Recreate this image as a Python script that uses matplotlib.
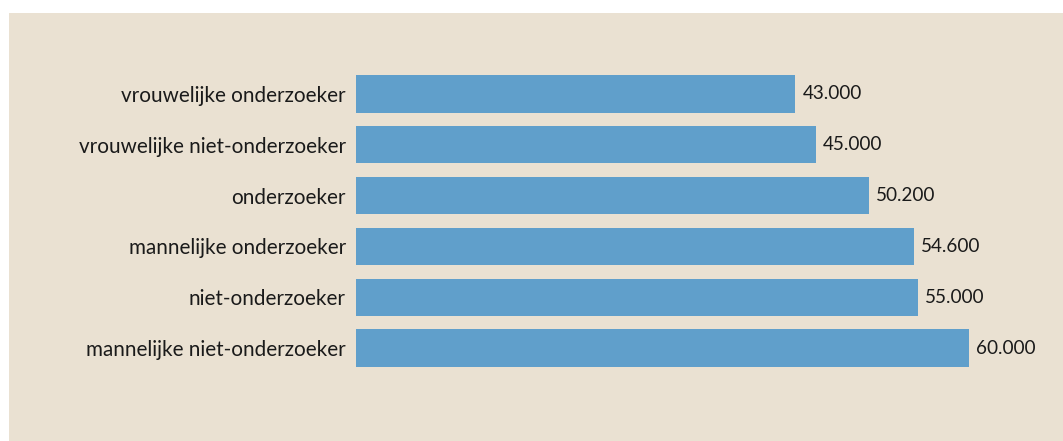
import matplotlib
matplotlib.use("Agg")
import matplotlib.pyplot as plt
from matplotlib.patches import Rectangle

categories = ["vrouwelijke onderzoeker", "vrouwelijke niet-onderzoeker", "onderzoeker",
              "mannelijke onderzoeker", "niet-onderzoeker", "mannelijke niet-onderzoeker"]
values = [43000, 45000, 50200, 54600, 55000, 60000]

W, H = 1063, 441
FONT = "Lato"
fig = plt.figure(figsize=(W / 100, H / 100), dpi=100)
fig.patch.set_facecolor("white")
bg = "#EAE1D2"
fig.patches.append(Rectangle((9 / W, 0), 1 - 9 / W, (H - 13) / H, transform=fig.transFigure,
                             facecolor=bg, edgecolor="none", zorder=-10))

left_px, right_px = 356, 1051
top_px, bot_px = 63.5, 378.5
ax = fig.add_axes([left_px / W, 1 - bot_px / H, (right_px - left_px) / W, (bot_px - top_px) / H])
ax.set_zorder(5)
ax.set_facecolor("none")
pos = list(range(len(categories)))
ax.barh(pos, values, height=0.73, color="#609FCB", edgecolor="none")
ax.set_xlim(0, 68000)
ax.set_ylim(5.6, -0.6)
ax.set_yticks(pos)
ax.set_yticklabels(categories, fontsize=14.9, fontfamily=FONT, color="#1a1a1a")
ax.tick_params(axis="y", length=0, pad=7.2)
ax.set_xticks([])
for s in ax.spines.values():
    s.set_visible(False)
for p, v in zip(pos, values):
    ax.annotate(f"{v:,}".replace(",", "."), (v, p), xytext=(5, 0), textcoords="offset points",
                va="center", ha="left", fontsize=13.6, fontfamily=FONT, color="#1a1a1a",
                annotation_clip=False)
fig.savefig("out.png", dpi=100, facecolor=fig.get_facecolor())
